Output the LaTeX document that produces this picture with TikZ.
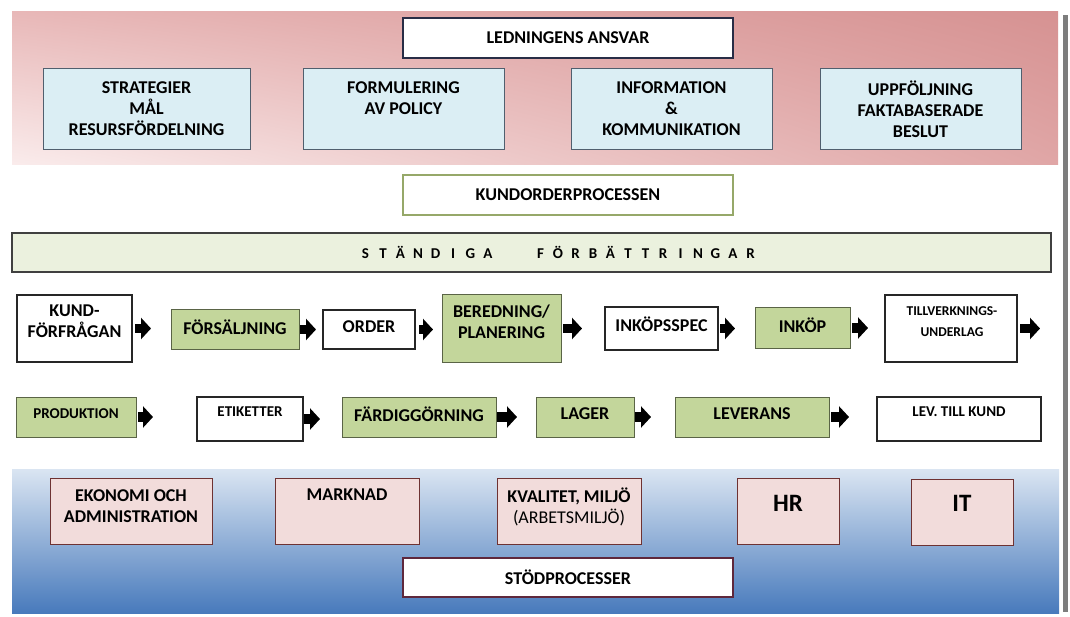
\documentclass[tikz,border=0pt]{standalone}
\usepackage{fontspec}
\setmainfont{Carlito}
\usetikzlibrary{arrows.meta,shadings}
\definecolor{pinkUL}{RGB}{232,184,184}
\definecolor{pinkUR}{RGB}{214,146,146}
\definecolor{pinkLL}{RGB}{250,236,236}
\definecolor{pinkLR}{RGB}{224,166,166}
\definecolor{blueT}{RGB}{218,229,242}
\definecolor{blueM}{RGB}{150,178,215}
\definecolor{blueB}{RGB}{72,122,188}
\definecolor{lblue}{RGB}{219,238,244}
\definecolor{lblueline}{RGB}{80,95,110}
\definecolor{gfill}{RGB}{195,214,155}
\definecolor{gline}{RGB}{90,100,70}
\definecolor{barfill}{RGB}{235,241,222}
\definecolor{pfill}{RGB}{242,220,219}
\definecolor{pline}{RGB}{110,50,50}
\definecolor{navy}{RGB}{40,45,70}
\definecolor{olive}{RGB}{150,168,105}
\definecolor{maroon}{RGB}{95,40,60}
\definecolor{shadowgrey}{RGB}{125,125,125}
\tikzset{
  bx/.style={inner sep=0pt, outer sep=0pt, anchor=north west},
  hdr/.style={bx, fill=white, draw=navy, line width=2pt},
  hdrg/.style={bx, fill=white, draw=olive, line width=2pt},
  hdrm/.style={bx, fill=white, draw=maroon, line width=2pt},
  bbox/.style={bx, fill=lblue, draw=lblueline, line width=1pt},
  gbox/.style={bx, fill=gfill, draw=gline, line width=1pt},
  wbox/.style={bx, fill=white, draw=black!85, line width=1.1pt},
  pbox/.style={bx, fill=pfill, draw=pline, line width=1pt},
  barbox/.style={bx, fill=barfill, draw=black!75, line width=1.2pt},
  t/.style={inner sep=0pt, align=center, font=\fontsize{18}{21}\selectfont\bfseries},
  ts/.style={inner sep=0pt, align=center, font=\fontsize{15}{21}\selectfont\bfseries},
  tt/.style={inner sep=0pt, align=center, font=\fontsize{13.5}{21}\selectfont\bfseries},
  tb/.style={inner sep=0pt, align=center, font=\fontsize{25}{30}\selectfont\bfseries},
  blockarrow/.style={draw=black, line width=9.5pt, -{Triangle[length=10pt,width=21pt]}},
}
\newcommand\mybox[6]{\node[#2, minimum width={(#5-#3)*1pt}, minimum height={(#6-#4)*1pt}] (#1) at (#3,#4) {};}
\newcommand\blk[4]{\draw[blockarrow, shorten <=#3pt, shorten >=#4pt] (#1.east) -- (#1.east -| #2.west);}
\newcommand\lsp[1]{\makebox[17.5pt]{#1}}
\begin{document}
\begin{tikzpicture}[x=1pt,y=-1pt]
\useasboundingbox (0,0) rectangle (1070,617);
\fill[white] (0,0) rectangle (1070,617);
% bands
\shade[upper left=pinkUL, upper right=pinkUR, lower left=pinkLL, lower right=pinkLR] (12,12) rectangle (1058,165);
\shade[top color=blueT, middle color=blueM, bottom color=blueB] (12,469) rectangle (1059,613);
\fill[shadowgrey] (1063,15) rectangle (1068,612);
% management
\mybox{led}{hdr}{403}{18}{733}{58}
\node[t] (tled) at (568,38) {LEDNINGENS ANSVAR};
\mybox{m1}{bbox}{43}{69}{250}{150}
\mybox{m2}{bbox}{303}{69}{504}{150}
\mybox{m3}{bbox}{571}{69}{772}{150}
\mybox{m4}{bbox}{820}{69}{1021}{150}
\node[t] (tm1) at (146.5,109) {STRATEGIER\\MÅL\\RESURSFÖRDELNING};
\node[t] (tm2) at (403.5,98.5) {FORMULERING\\AV POLICY};
\node[t] (tm3) at (671.5,109) {INFORMATION\\\&\\KOMMUNIKATION};
\node[t] (tm4) at (920.5,109) {UPPFÖLJNING\\FAKTABASERADE\\BESLUT};
% kundorder
\mybox{kop}{hdrg}{403}{175}{733}{215}
\node[t] (tkop) at (568,195) {KUNDORDERPROCESSEN};
\mybox{bar}{barbox}{12}{233}{1051}{272}
\node[inner sep=0pt, font=\fontsize{15}{17}\selectfont\bfseries] (tbar) at (558,252)
  {\lsp{S}\lsp{T}\lsp{Ä}\lsp{N}\lsp{D}\lsp{I}\lsp{G}\lsp{A}\lsp{}\lsp{}\lsp{F}\lsp{Ö}\lsp{R}\lsp{B}\lsp{Ä}\lsp{T}\lsp{T}\lsp{R}\lsp{I}\lsp{N}\lsp{G}\lsp{A}\lsp{R}};
% row 1
\mybox{kund}{wbox}{17}{295}{132}{362}
\mybox{fors}{gbox}{171}{310}{299}{349}
\mybox{order}{wbox}{323}{310}{415}{349}
\mybox{bered}{gbox}{442}{295}{561}{362}
\mybox{inkspec}{wbox}{605}{307}{718}{350}
\mybox{inkop}{gbox}{755}{308}{850}{348}
\mybox{tillv}{wbox}{885}{295}{1017}{362}
\node[t] (tkund) at (74.5,321) {KUND-\\FÖRFRÅGAN};
\node[t] (tfors) at (235,327) {FÖRSÄLJNING};
\node[t] (torder) at (369,327) {ORDER};
\node[t] (tbered) at (501.5,322) {BEREDNING/\\PLANERING};
\node[t] (tinkspec) at (661.5,324) {INKÖPSSPEC};
\node[t] (tinkop) at (802.5,325) {INKÖP};
\node[tt] (ttillv) at (952,322) {TILLVERKNINGS-\\UNDERLAG};
\blk{kund}{fors}{3}{20}
\blk{fors}{order}{1}{7}
\blk{order}{bered}{4}{9}
\blk{bered}{inkspec}{2}{23}
\blk{inkspec}{inkop}{2}{20}
\blk{inkop}{tillv}{2}{17}
\coordinate (endA) at (1040,328);
\draw[blockarrow, shorten <=3pt] (tillv.east) -- (tillv.east -| endA);
% row 2
\mybox{prod}{gbox}{16}{397}{136}{437}
\mybox{etik}{wbox}{197}{397}{303}{441}
\mybox{fard}{gbox}{342}{397}{496}{437}
\mybox{lager}{gbox}{536}{397}{634}{437}
\mybox{lev}{gbox}{675}{397}{829}{437}
\mybox{levk}{wbox}{877}{397}{1041}{441}
\node[ts] (tprod) at (76,414) {PRODUKTION};
\node[ts] (tetik) at (250,412) {ETIKETTER};
\node[t] (tfard) at (419,414) {FÄRDIGGÖRNING};
\node[t] (tlager) at (585,414) {LAGER};
\node[t] (tlev) at (752,414) {LEVERANS};
\node[ts] (tlevk) at (959,412) {LEV. TILL KUND};
\blk{prod}{etik}{2}{44}
\blk{etik}{fard}{1}{22}
\blk{fard}{lager}{1}{19}
\blk{lager}{lev}{1}{24}
\blk{lev}{levk}{2}{28}
% support
\mybox{eko}{pbox}{50}{478}{212}{544}
\mybox{mark}{pbox}{275}{478}{419}{544}
\mybox{kval}{pbox}{497}{478}{641}{544}
\mybox{hr}{pbox}{737}{478}{839}{544}
\mybox{it}{pbox}{911}{479}{1013}{545}
\node[t] (teko) at (131,506.5) {EKONOMI OCH\\ADMINISTRATION};
\node[t] (tmark) at (347,495) {MARKNAD};
\node[t] (tkval) at (569,506.5) {KVALITET, MILJÖ\\{\mdseries (ARBETSMILJÖ)}};
\node[tb] (thr) at (788,503) {HR};
\node[tb] (tit) at (962,503) {IT};
\mybox{stod}{hdrm}{403}{558}{733}{597}
\node[t] (tstod) at (568,577) {STÖDPROCESSER};
\end{tikzpicture}
\end{document}
